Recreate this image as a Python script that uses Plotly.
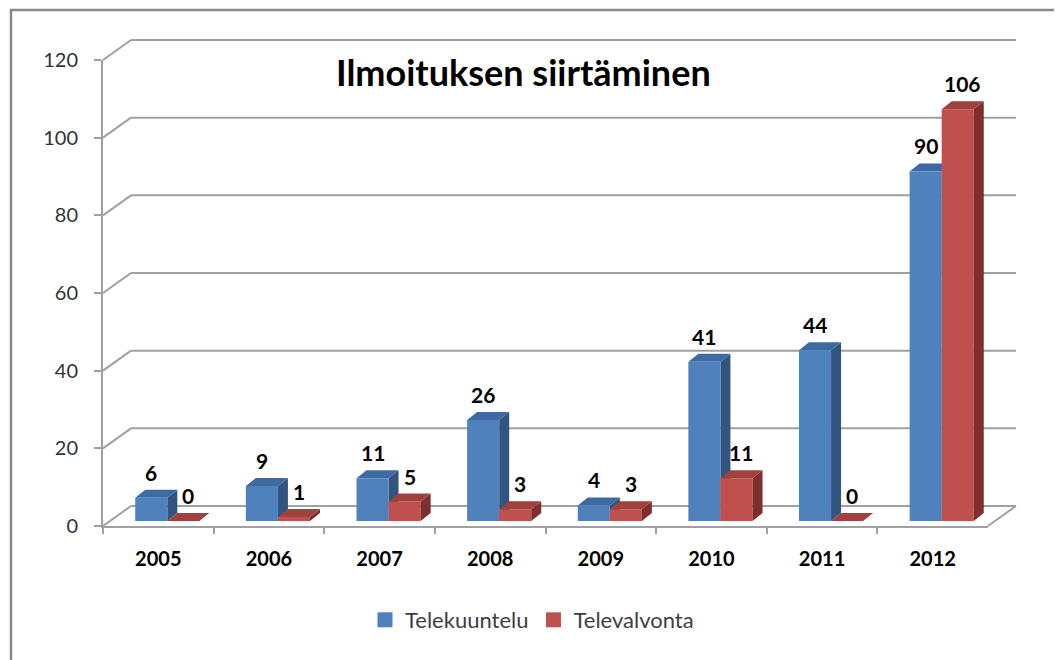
import plotly.graph_objects as go

# ---------------- data ----------------
years = ["2005", "2006", "2007", "2008", "2009", "2010", "2011", "2012"]
telekuuntelu = [6, 9, 11, 26, 4, 41, 44, 90]
televalvonta = [0, 1, 5, 3, 3, 11, 0, 106]
y_ticks = [0, 20, 40, 60, 80, 100, 120]
series_names = ["Telekuuntelu", "Televalvonta"]
title_text = "Ilmoituksen siirtäminen"

# ---------------- geometry / style ----------------
W, H = 1062, 660
OFF = 8  # page body margin


def px(x):
    return (x - OFF) / W


def py(y):
    return 1 - (y - OFF) / H


FX0, FX1 = 103, 988          # front plane x extent (pixels)
FY0, FY1 = 526, 60           # front plane y of value 0 / 120
YMAX = 120
DEPTH_X, DEPTH_Y = 28, 20    # back-wall offset (pixels)
BX, BY = 9, 5                # bar plane offset (pixels)
SCALE = (FY0 - FY1) / YMAX   # px per value unit
PADV = 8                     # extra value range of back-wall axis

BAR_W = 0.29
N = len(years)
DX = 10 / ((FX1 - FX0) / N)          # bar depth in x data units
DY = 8 / SCALE                        # bar depth in y data units

BLUE, BLUE_TOP, BLUE_SIDE = "#4F81BD", "#3D6AA3", "#32557F"
RED, RED_TOP, RED_SIDE = "#C0504D", "#A1403D", "#7E2F2D"
GRID = "#A0A0A0"
FONT = "Lato"

xi = list(range(N))

fig = go.Figure()
fig.add_trace(go.Bar(x=xi, y=telekuuntelu, offset=-BAR_W, width=BAR_W,
                     marker=dict(color=BLUE, line=dict(width=0)), showlegend=False,
                     name=series_names[0], xaxis="x", yaxis="y", hoverinfo="skip"))
fig.add_trace(go.Bar(x=xi, y=televalvonta, offset=0, width=BAR_W,
                     marker=dict(color=RED, line=dict(width=0)), showlegend=False,
                     name=series_names[1], xaxis="x", yaxis="y", hoverinfo="skip"))
# legend entries (square swatches)
for name, col in zip(series_names, [BLUE, RED]):
    fig.add_trace(go.Scatter(x=[None], y=[None], mode="markers", name=name,
                             marker=dict(symbol="square", size=15, color=col),
                             xaxis="x", yaxis="y", hoverinfo="skip"))
# invisible traces to show the front axes and the back wall axes
fig.add_trace(go.Scatter(x=years, y=[0] * N, xaxis="x2", yaxis="y2", mode="markers",
                         marker=dict(opacity=0), showlegend=False, hoverinfo="skip"))
fig.add_trace(go.Scatter(x=[0], y=[0], xaxis="x3", yaxis="y3", mode="markers",
                         marker=dict(opacity=0), showlegend=False, hoverinfo="skip"))

shapes = []
# back wall gridlines and connectors to the front axis
for v in y_ticks:
    shapes.append(dict(type="line", xref="paper", yref="y3",
                       x0=px(FX0 + DEPTH_X), x1=px(FX1 + DEPTH_X), y0=v, y1=v,
                       line=dict(color=GRID, width=2), layer="below"))
    shapes.append(dict(type="line", xref="paper", yref="y3",
                       xsizemode="pixel", xanchor=px(FX0 + DEPTH_X), x0=0, x1=-DEPTH_X,
                       ysizemode="pixel", yanchor=v, y0=0, y1=-DEPTH_Y,
                       line=dict(color=GRID, width=2), layer="below"))
# right floor edge
shapes.append(dict(type="line", xref="paper", yref="y3",
                   xsizemode="pixel", xanchor=px(FX1 + DEPTH_X), x0=0, x1=-DEPTH_X,
                   ysizemode="pixel", yanchor=0, y0=0, y1=-DEPTH_Y,
                   line=dict(color=GRID, width=2), layer="below"))


def top_path(xl, xr, v):
    return f"M{xl},{v} L{xl+DX},{v+DY} L{xr+DX},{v+DY} L{xr},{v} Z"


def side_path(xr, v):
    return f"M{xr},{v} L{xr+DX},{v+DY} L{xr+DX},{DY} L{xr},0 Z"


LABEL_FONT = dict(family=FONT, size=21, color="black", weight="bold")
annotations = []
for i in xi:
    b, r = telekuuntelu[i], televalvonta[i]
    shapes.append(dict(type="path", xref="x", yref="y", path=side_path(i, b),
                       fillcolor=BLUE_SIDE, line=dict(width=0), layer="below"))
    shapes.append(dict(type="path", xref="x", yref="y", path=top_path(i - BAR_W, i, b),
                       fillcolor=BLUE_TOP, line=dict(width=0), layer="below"))
    shapes.append(dict(type="path", xref="x", yref="y", path=side_path(i + BAR_W, r),
                       fillcolor=RED_SIDE, line=dict(width=0), layer="above"))
    shapes.append(dict(type="path", xref="x", yref="y", path=top_path(i, i + BAR_W, r),
                       fillcolor=RED_TOP, line=dict(width=0), layer="above"))
    annotations.append(dict(xref="x", yref="y", x=i - BAR_W / 2, y=b + DY,
                            text=str(b), showarrow=False, yanchor="bottom", yshift=3,
                            font=LABEL_FONT))
    annotations.append(dict(xref="x", yref="y", x=i + BAR_W / 2 + DX * 0.5, y=r + DY,
                            text=str(r), showarrow=False, yanchor="bottom", yshift=3,
                            font=LABEL_FONT))

# outer border
shapes.append(dict(type="rect", xref="paper", yref="paper",
                   x0=px(11), x1=1.05, y0=-0.05, y1=py(10),
                   line=dict(color="#888888", width=2.5), layer="below"))

annotations.append(dict(xref="paper", yref="paper", x=px(523), y=py(72),
                        text=title_text, showarrow=False, xanchor="center", yanchor="middle",
                        font=dict(family=FONT, size=36, color="black", weight="bold")))

fig.update_layout(
    width=W, height=H, autosize=False,
    margin=dict(l=0, r=0, t=0, b=0, pad=0, autoexpand=False),
    paper_bgcolor="white", plot_bgcolor="rgba(0,0,0,0)",
    barmode="overlay", showlegend=True,
    font=dict(family=FONT),
    xaxis=dict(domain=[px(FX0 + BX), px(FX1 + BX)], range=[-0.5, N - 0.5],
               visible=False, anchor="y", fixedrange=True, automargin=False),
    yaxis=dict(domain=[py(FY0 - BY), py(FY1 - BY)], range=[0, YMAX],
               visible=False, anchor="x", fixedrange=True, automargin=False),
    xaxis2=dict(domain=[px(FX0), px(FX1)], type="category", categoryarray=years,
                categoryorder="array", range=[-0.5, N - 0.5], anchor="y2",
                tickson="boundaries", ticks="outside", ticklen=6, tickwidth=2,
                tickcolor=GRID, showline=True, linecolor=GRID, linewidth=2,
                showgrid=False, zeroline=False, ticklabelstandoff=14, automargin=False,
                tickfont=dict(family=FONT, size=20, color="black", weight="bold")),
    yaxis2=dict(domain=[py(FY0), py(FY1)], range=[0, YMAX], tickvals=y_ticks,
                anchor="x2", ticks="outside", ticklen=7, tickwidth=2, tickcolor=GRID,
                showline=True, linecolor=GRID, linewidth=2, showgrid=False,
                zeroline=False, ticklabelstandoff=12, automargin=False,
                tickfont=dict(family=FONT, size=20, color="#333333")),
    xaxis3=dict(domain=[px(FX0 + DEPTH_X), px(FX1 + DEPTH_X)], range=[0, 1],
                visible=False, anchor="y3", fixedrange=True, automargin=False),
    yaxis3=dict(domain=[py(FY0 - DEPTH_Y + PADV * SCALE), py(FY1 - DEPTH_Y - PADV * SCALE)],
                range=[-PADV, YMAX + PADV], visible=False, anchor="x3", fixedrange=True,
                automargin=False),
    legend=dict(orientation="h", x=px(532), xanchor="center", y=py(620), yanchor="middle",
                font=dict(family=FONT, size=22, color="#404040"), bgcolor="rgba(0,0,0,0)"),
    shapes=shapes, annotations=annotations,
)

fig.write_html("out.html")
